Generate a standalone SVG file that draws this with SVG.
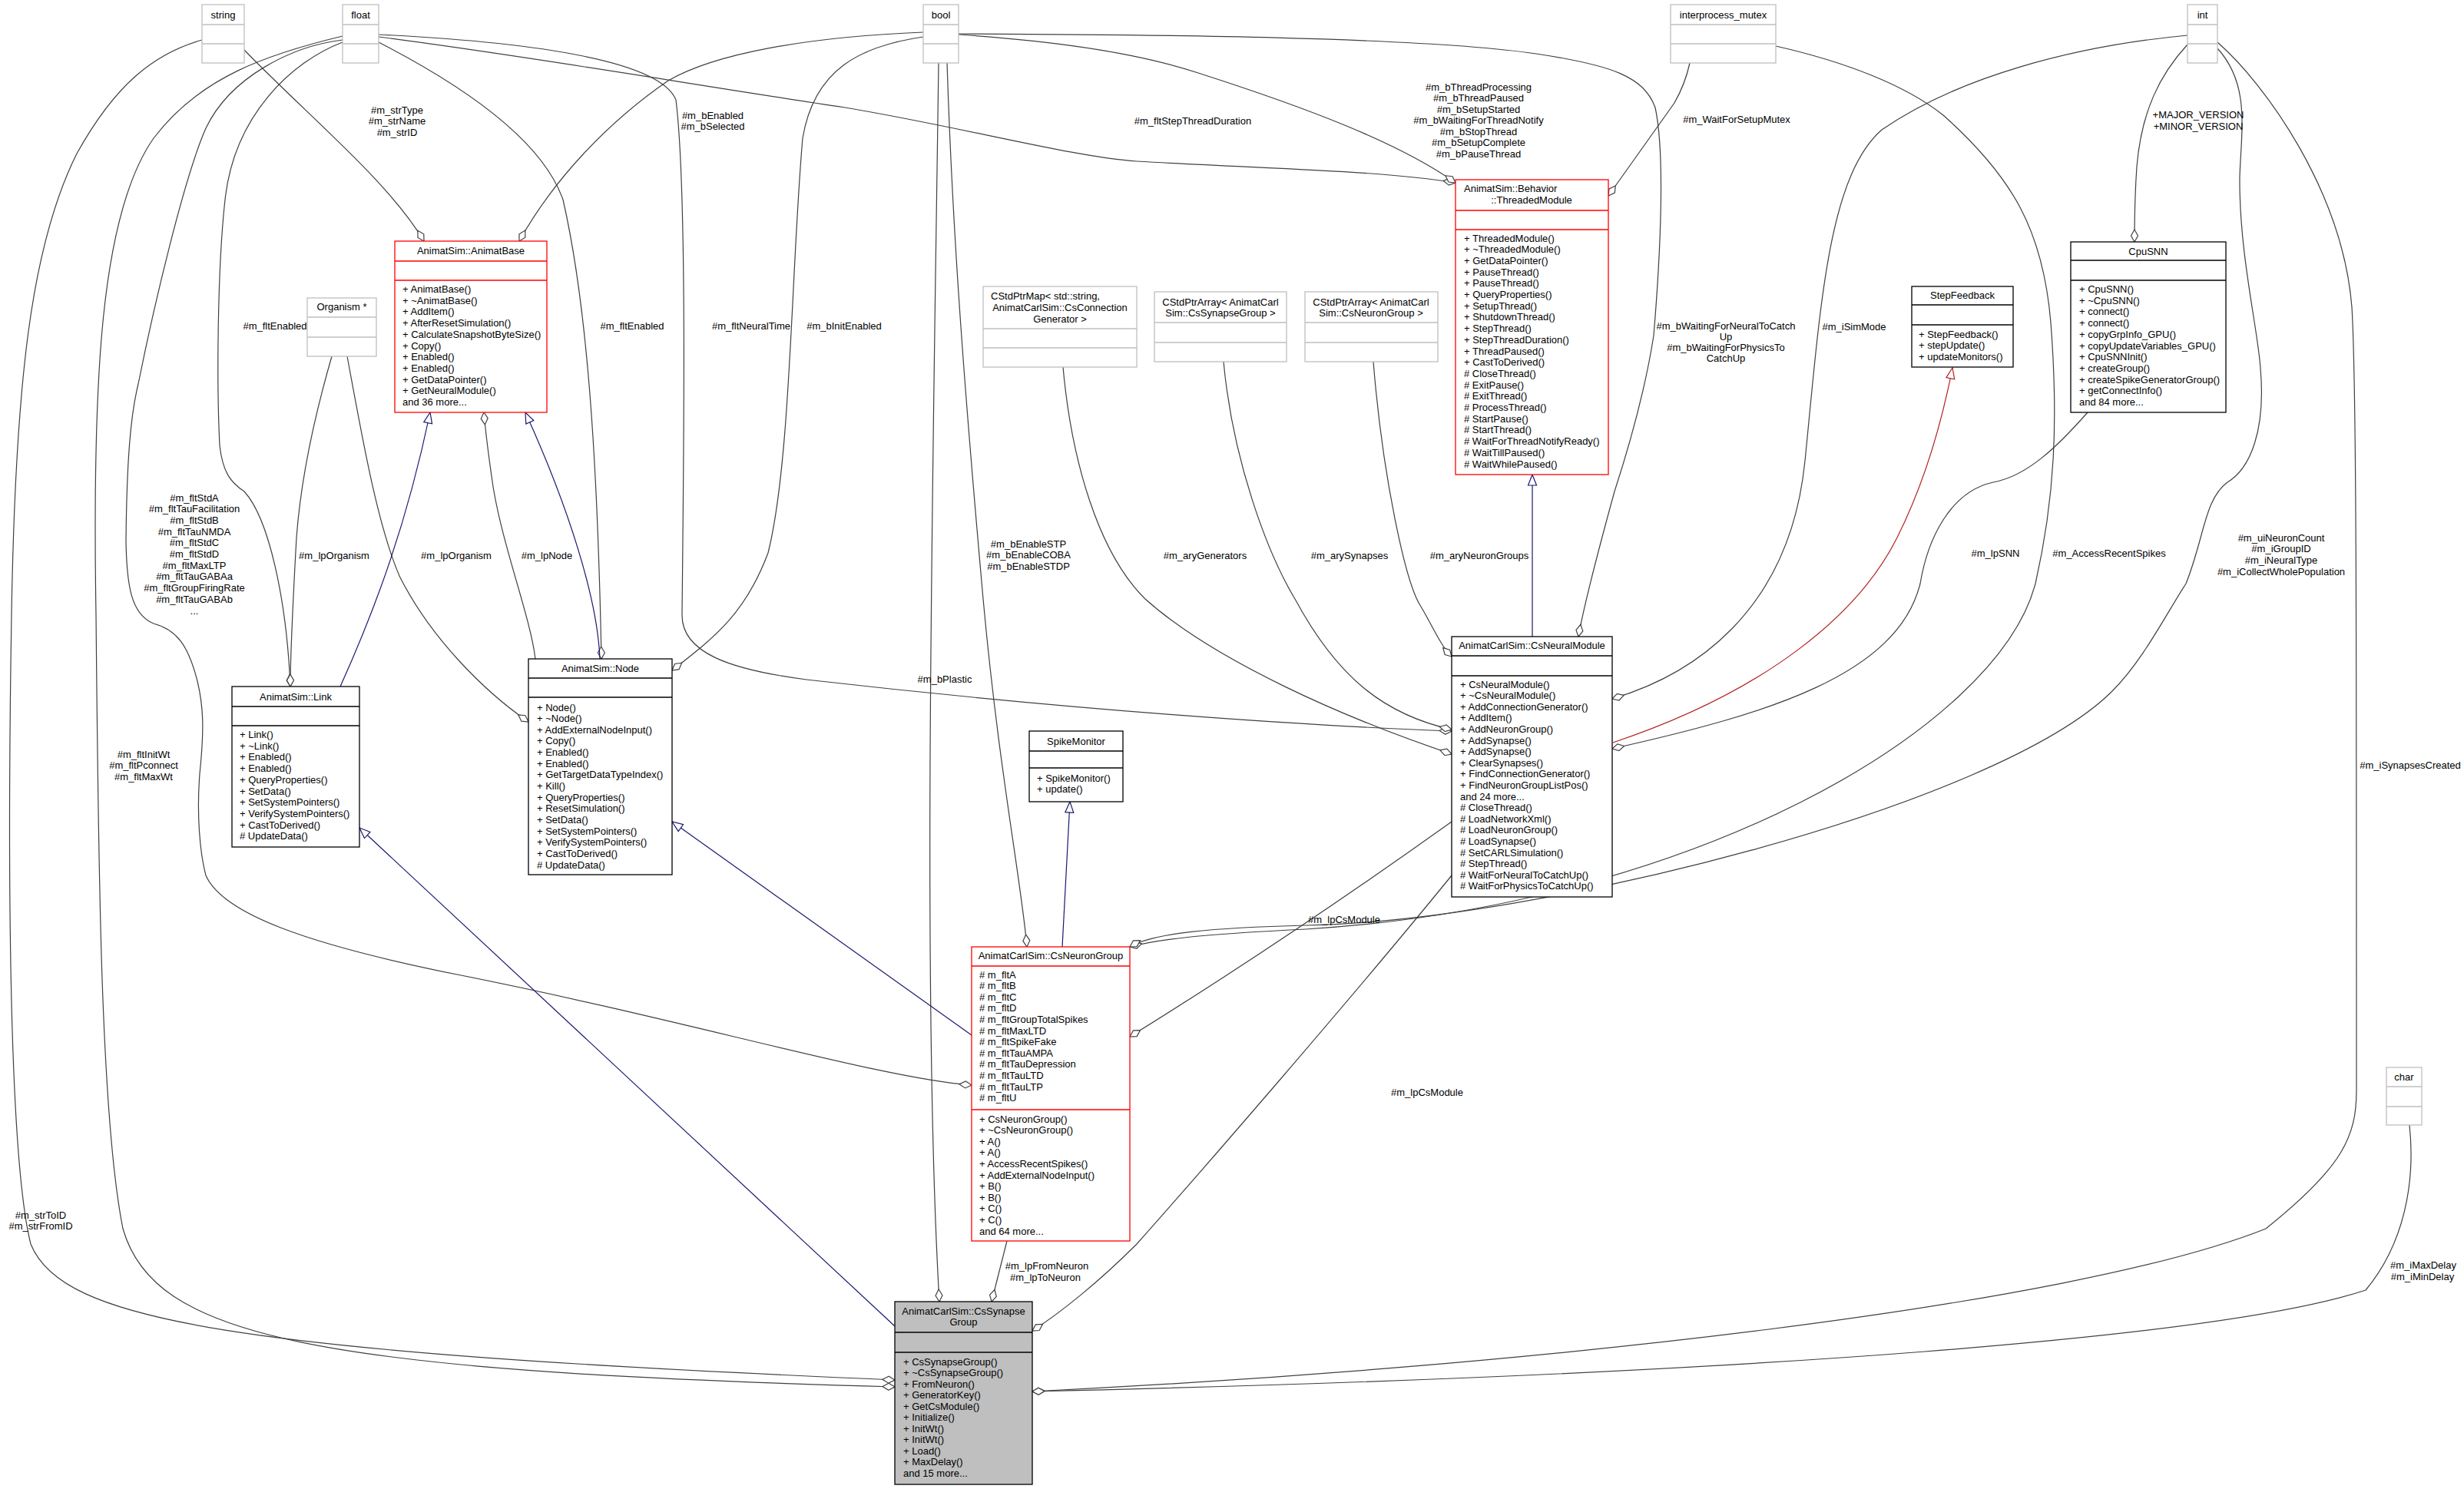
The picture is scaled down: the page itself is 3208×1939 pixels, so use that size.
<svg xmlns="http://www.w3.org/2000/svg" width="3208" height="1939" viewBox="0 0 3208 1939">
<style>
text{font-family:"Liberation Sans",Arial,sans-serif;font-size:13px;fill:#000}
.c{text-anchor:middle}
.bx{fill:#fff;stroke:#000;stroke-width:1.3}
.gr{fill:#fff;stroke:#bfbfbf;stroke-width:1.3}
.rd{fill:#fff;stroke:#ff0000;stroke-width:1.3}
.sel{fill:#bfbfbf;stroke:#000;stroke-width:1.3}
.lk{stroke:#000;stroke-width:1.3}
.lg{stroke:#bfbfbf;stroke-width:1.3}
.lr{stroke:#ff0000;stroke-width:1.3}
.e{fill:none;stroke:#404040;stroke-width:1.2;marker-end:url(#dia)}
.b{fill:none;stroke:#191970;stroke-width:1.2;marker-end:url(#tri)}
.pr{fill:none;stroke:#b22222;stroke-width:1.2;marker-end:url(#trir)}
</style>
<defs>
<marker id="dia" markerWidth="18" markerHeight="12" refX="17" refY="6" orient="auto" markerUnits="userSpaceOnUse"><path d="M1,6 L9,1.5 L17,6 L9,10.5 Z" fill="#fff" stroke="#404040" stroke-width="1.2"/></marker>
<marker id="tri" markerWidth="16" markerHeight="14" refX="15" refY="7" orient="auto" markerUnits="userSpaceOnUse"><path d="M1,1.5 L15,7 L1,12.5 Z" fill="#fff" stroke="#191970" stroke-width="1.2"/></marker>
<marker id="trir" markerWidth="16" markerHeight="14" refX="15" refY="7" orient="auto" markerUnits="userSpaceOnUse"><path d="M1,1.5 L15,7 L1,12.5 Z" fill="#fff" stroke="#b22222" stroke-width="1.2"/></marker>
</defs>
<rect width="3208" height="1939" fill="#fff"/>

<g id="connectors">
<path class="e" d="M318,65 C400,150 505,235 552,314"/>
<path class="e" d="M1202,42 C1050,48 930,70 870,105 C790,160 720,235 676,314"/>
<path class="e" d="M446,55 C380,80 305,150 293,260 C283,350 282,500 286,580 C290,615 300,628 318,640 C350,675 373,780 378,894"/>
<path class="e" d="M432,464 C410,540 392,620 386,700 C381,790 378,850 378,894"/>
<path class="e" d="M452,464 C470,560 490,680 520,750 C560,830 630,900 688,940"/>
<path class="e" d="M697,858 C690,800 650,700 640,620 C635,585 632,560 630,537"/>
<path class="e" d="M493,55 C600,110 705,180 733,260 C765,400 778,600 783,858"/>
<path class="e" d="M493,45 C700,55 860,80 880,130 C895,250 890,600 888,800 C887,850 950,872 1050,885 C1400,925 1700,945 1890,952"/>
<path class="e" d="M1202,48 C1120,60 1060,90 1045,180 C1030,350 1030,600 1000,720 C970,800 930,830 875,873"/>
<path class="e" d="M493,48 C700,75 900,110 1100,140 C1250,165 1400,205 1480,210 C1650,220 1800,222 1895,238"/>
<path class="e" d="M1248,45 C1400,55 1500,75 1560,95 C1700,140 1820,185 1895,238"/>
<path class="e" d="M1248,44 C1500,45 1850,48 2000,70 C2100,85 2140,100 2155,140 C2168,200 2162,330 2153,437 C2140,520 2115,600 2102,640 C2080,720 2062,790 2055,829"/>
<path class="e" d="M1233,82 C1240,300 1255,500 1280,780 C1300,1000 1330,1150 1337,1233"/>
<path class="e" d="M1222,82 C1215,600 1200,1300 1223,1695"/>
<path class="e" d="M2200,82 C2195,105 2188,120 2180,134 L2094,255"/>
<path class="e" d="M2312,60 C2400,80 2480,110 2530,150 C2620,230 2660,300 2670,420 C2680,550 2675,650 2650,760 C2600,950 2200,1180 1700,1210 C1600,1215 1520,1220 1471,1233"/>
<path class="e" d="M2848,46 C2700,60 2550,100 2450,169 C2380,230 2370,400 2350,600 C2330,800 2200,880 2099,910"/>
<path class="e" d="M2848,58 C2812,97 2788,145 2782,217 C2779,260 2779,290 2779,315"/>
<path class="e" d="M2887,63 C2930,110 2918,170 2916,230 C2915,330 2940,430 2943,480 C2950,560 2930,610 2900,628 C2870,650 2870,700 2846,760 C2820,800 2790,860 2750,900 C2600,1050 2000,1200 1700,1205 C1580,1208 1500,1215 1471,1233"/>
<path class="e" d="M2887,55 C2950,110 3050,250 3062,400 C3068,500 3068,800 3068,1420 C3068,1480 3050,1520 2950,1600 C2700,1700 2000,1780 1344,1812"/>
<path class="e" d="M3137,1465 C3145,1540 3130,1620 3080,1680 C2900,1740 2300,1790 1344,1812"/>
<path class="e" d="M2718,537 C2680,580 2640,620 2595,628 C2540,640 2510,700 2500,760 C2470,880 2300,930 2099,975"/>
<path class="e" d="M1384,478 C1395,600 1430,720 1491,780 C1580,860 1750,935 1890,982"/>
<path class="e" d="M1593,471 C1605,600 1650,720 1686,780 C1740,880 1800,930 1890,950"/>
<path class="e" d="M1788,471 C1800,620 1830,760 1850,790 C1865,815 1875,840 1890,855"/>
<path class="e" d="M1890,1070 C1750,1170 1600,1270 1471,1350"/>
<path class="e" d="M1890,1140 C1760,1300 1560,1530 1480,1620 C1430,1670 1380,1710 1344,1733"/>
<path class="e" d="M1311,1616 L1291,1695"/>
<path class="e" d="M446,52 C380,60 300,100 268,167 C240,230 200,400 180,500 C170,540 165,600 164,705 C165,760 170,800 200,812 C230,820 245,840 257,887 C265,920 266,950 260,1008 C256,1060 260,1110 268,1140 C290,1190 400,1230 600,1270 C900,1330 1150,1405 1265,1413"/>
<path class="e" d="M446,47 C350,70 260,100 200,180 C130,280 120,500 125,800 C128,1100 130,1450 160,1600 C200,1740 400,1785 1165,1806"/>
<path class="e" d="M263,52 C200,70 150,110 100,200 C40,320 20,500 15,800 C10,1100 10,1500 40,1620 C80,1720 300,1760 1165,1797"/>
<path class="b" d="M443,894 C490,790 530,680 560,537"/>
<path class="b" d="M781,858 C778,780 740,660 684,537"/>
<path class="b" d="M1265,1348 L875,1070"/>
<path class="b" d="M1165,1727 L468,1078"/>
<path class="b" d="M1383,1233 L1393,1044"/>
<path class="b" d="M1995,829 L1995,618"/>
<path class="pr" d="M2100,967 C2300,900 2420,800 2470,700 C2510,620 2530,540 2542,479"/>
</g>

<g id="edge-labels">
<text class="c" x="517" y="147.5">#m_strType</text>
<text class="c" x="517" y="161.5">#m_strName</text>
<text class="c" x="517" y="176.5">#m_strID</text>
<text class="c" x="928" y="154.5">#m_bEnabled</text>
<text class="c" x="928" y="168.5">#m_bSelected</text>
<text class="c" x="1553" y="161.5">#m_fltStepThreadDuration</text>
<text class="c" x="1925" y="117.5">#m_bThreadProcessing</text>
<text class="c" x="1925" y="132">#m_bThreadPaused</text>
<text class="c" x="1925" y="146.5">#m_bSetupStarted</text>
<text class="c" x="1925" y="161">#m_bWaitingForThreadNotify</text>
<text class="c" x="1925" y="175.5">#m_bStopThread</text>
<text class="c" x="1925" y="190">#m_bSetupComplete</text>
<text class="c" x="1925" y="204.5">#m_bPauseThread</text>
<text class="c" x="2261" y="159.5">#m_WaitForSetupMutex</text>
<text class="c" x="2862" y="153.5">+MAJOR_VERSION</text>
<text class="c" x="2862" y="168.5">+MINOR_VERSION</text>
<text class="c" x="358" y="428.5">#m_fltEnabled</text>
<text class="c" x="823" y="428.5">#m_fltEnabled</text>
<text class="c" x="978" y="428.5">#m_fltNeuralTime</text>
<text class="c" x="1099" y="428.5">#m_bInitEnabled</text>
<text class="c" x="2247" y="428.5">#m_bWaitingForNeuralToCatch</text>
<text class="c" x="2247" y="442.5">Up</text>
<text class="c" x="2247" y="456.5">#m_bWaitingForPhysicsTo</text>
<text class="c" x="2247" y="470.5">CatchUp</text>
<text class="c" x="2414" y="429.5">#m_iSimMode</text>
<text class="c" x="435" y="727.5">#m_lpOrganism</text>
<text class="c" x="594" y="727.5">#m_lpOrganism</text>
<text class="c" x="712" y="727.5">#m_lpNode</text>
<text class="c" x="253" y="652.5">#m_fltStdA</text>
<text class="c" x="253" y="667.2">#m_fltTauFacilitation</text>
<text class="c" x="253" y="681.9">#m_fltStdB</text>
<text class="c" x="253" y="696.6">#m_fltTauNMDA</text>
<text class="c" x="253" y="711.3">#m_fltStdC</text>
<text class="c" x="253" y="726">#m_fltStdD</text>
<text class="c" x="253" y="740.7">#m_fltMaxLTP</text>
<text class="c" x="253" y="755.4">#m_fltTauGABAa</text>
<text class="c" x="253" y="770.1">#m_fltGroupFiringRate</text>
<text class="c" x="253" y="784.8">#m_fltTauGABAb</text>
<text class="c" x="253" y="799.5">...</text>
<text class="c" x="1339" y="712.5">#m_bEnableSTP</text>
<text class="c" x="1339" y="727">#m_bEnableCOBA</text>
<text class="c" x="1339" y="741.5">#m_bEnableSTDP</text>
<text class="c" x="1569" y="727.5">#m_aryGenerators</text>
<text class="c" x="1757" y="727.5">#m_arySynapses</text>
<text class="c" x="1926" y="727.5">#m_aryNeuronGroups</text>
<text class="c" x="2598" y="724.5">#m_lpSNN</text>
<text class="c" x="2746" y="724.5">#m_AccessRecentSpikes</text>
<text class="c" x="2970" y="704.5">#m_uiNeuronCount</text>
<text class="c" x="2970" y="718.5">#m_iGroupID</text>
<text class="c" x="2970" y="733.5">#m_iNeuralType</text>
<text class="c" x="2970" y="748.5">#m_iCollectWholePopulation</text>
<text class="c" x="3138" y="1001">#m_iSynapsesCreated</text>
<text class="c" x="1750" y="1201.5">#m_lpCsModule</text>
<text class="c" x="1858" y="1426.5">#m_lpCsModule</text>
<text class="c" x="1230" y="888.5">#m_bPlastic</text>
<text class="c" x="187" y="986.5">#m_fltInitWt</text>
<text class="c" x="187" y="1001">#m_fltPconnect</text>
<text class="c" x="187" y="1015.5">#m_fltMaxWt</text>
<text class="c" x="53" y="1586.5">#m_strToID</text>
<text class="c" x="53" y="1600.5">#m_strFromID</text>
<text class="c" x="1363" y="1652.5">#m_lpFromNeuron</text>
<text class="c" x="1361" y="1667.5">#m_lpToNeuron</text>
<text class="c" x="3155" y="1651.5">#m_iMaxDelay</text>
<text class="c" x="3154" y="1666.5">#m_iMinDelay</text>
</g>

<g id="string"><rect class="gr" x="263" y="6" width="55" height="76"/><line class="lg" x1="263" y1="32" x2="318" y2="32"/><line class="lg" x1="263" y1="57" x2="318" y2="57"/><text class="c" x="290.5" y="23.5">string</text></g>
<g id="float"><rect class="gr" x="446" y="6" width="47" height="76"/><line class="lg" x1="446" y1="32" x2="493" y2="32"/><line class="lg" x1="446" y1="57" x2="493" y2="57"/><text class="c" x="469.5" y="23.5">float</text></g>
<g id="bool"><rect class="gr" x="1202" y="6" width="46" height="76"/><line class="lg" x1="1202" y1="32" x2="1248" y2="32"/><line class="lg" x1="1202" y1="57" x2="1248" y2="57"/><text class="c" x="1225" y="23.5">bool</text></g>
<g id="interprocess_mutex"><rect class="gr" x="2175" y="6" width="137" height="76"/><line class="lg" x1="2175" y1="32" x2="2312" y2="32"/><line class="lg" x1="2175" y1="57" x2="2312" y2="57"/><text class="c" x="2243.5" y="23.5">interprocess_mutex</text></g>
<g id="int"><rect class="gr" x="2848" y="6" width="39" height="76"/><line class="lg" x1="2848" y1="32" x2="2887" y2="32"/><line class="lg" x1="2848" y1="57" x2="2887" y2="57"/><text class="c" x="2867.5" y="23.5">int</text></g>
<g id="char"><rect class="gr" x="3107" y="1390" width="46" height="75"/><line class="lg" x1="3107" y1="1415" x2="3153" y2="1415"/><line class="lg" x1="3107" y1="1441" x2="3153" y2="1441"/><text class="c" x="3130" y="1407">char</text></g>
<g id="organism"><rect class="gr" x="400" y="388" width="90" height="76"/><line class="lg" x1="400" y1="413" x2="490" y2="413"/><line class="lg" x1="400" y1="439" x2="490" y2="439"/><text class="c" x="445" y="404">Organism *</text></g>

<g id="animatbase"><rect class="rd" x="514" y="314" width="198" height="223"/><line class="lr" x1="514" y1="340" x2="712" y2="340"/><line class="lr" x1="514" y1="365" x2="712" y2="365"/>
<text class="c" x="613" y="331">AnimatSim::AnimatBase</text>
<text x="524" y="381"><tspan x="524">+ AnimatBase()</tspan><tspan x="524" dy="14.7">+ ~AnimatBase()</tspan><tspan x="524" dy="14.7">+ AddItem()</tspan><tspan x="524" dy="14.7">+ AfterResetSimulation()</tspan><tspan x="524" dy="14.7">+ CalculateSnapshotByteSize()</tspan><tspan x="524" dy="14.7">+ Copy()</tspan><tspan x="524" dy="14.7">+ Enabled()</tspan><tspan x="524" dy="14.7">+ Enabled()</tspan><tspan x="524" dy="14.7">+ GetDataPointer()</tspan><tspan x="524" dy="14.7">+ GetNeuralModule()</tspan><tspan x="524" dy="14.7">and 36 more...</tspan></text></g>

<g id="link"><rect class="bx" x="302" y="894" width="166" height="209"/><line class="lk" x1="302" y1="920" x2="468" y2="920"/><line class="lk" x1="302" y1="945" x2="468" y2="945"/>
<text class="c" x="385" y="911.5">AnimatSim::Link</text>
<text x="312" y="961"><tspan x="312">+ Link()</tspan><tspan x="312" dy="14.7">+ ~Link()</tspan><tspan x="312" dy="14.7">+ Enabled()</tspan><tspan x="312" dy="14.7">+ Enabled()</tspan><tspan x="312" dy="14.7">+ QueryProperties()</tspan><tspan x="312" dy="14.7">+ SetData()</tspan><tspan x="312" dy="14.7">+ SetSystemPointers()</tspan><tspan x="312" dy="14.7">+ VerifySystemPointers()</tspan><tspan x="312" dy="14.7">+ CastToDerived()</tspan><tspan x="312" dy="14.7"># UpdateData()</tspan></text></g>

<g id="node"><rect class="bx" x="688" y="858" width="187" height="281"/><line class="lk" x1="688" y1="883" x2="875" y2="883"/><line class="lk" x1="688" y1="908" x2="875" y2="908"/>
<text class="c" x="781.5" y="874.5">AnimatSim::Node</text>
<text x="699" y="925.5"><tspan x="699">+ Node()</tspan><tspan x="699" dy="14.65">+ ~Node()</tspan><tspan x="699" dy="14.65">+ AddExternalNodeInput()</tspan><tspan x="699" dy="14.65">+ Copy()</tspan><tspan x="699" dy="14.65">+ Enabled()</tspan><tspan x="699" dy="14.65">+ Enabled()</tspan><tspan x="699" dy="14.65">+ GetTargetDataTypeIndex()</tspan><tspan x="699" dy="14.65">+ Kill()</tspan><tspan x="699" dy="14.65">+ QueryProperties()</tspan><tspan x="699" dy="14.65">+ ResetSimulation()</tspan><tspan x="699" dy="14.65">+ SetData()</tspan><tspan x="699" dy="14.65">+ SetSystemPointers()</tspan><tspan x="699" dy="14.65">+ VerifySystemPointers()</tspan><tspan x="699" dy="14.65">+ CastToDerived()</tspan><tspan x="699" dy="14.65"># UpdateData()</tspan></text></g>

<g id="cstdptrmap"><rect class="gr" x="1280" y="373" width="200" height="105"/><line class="lg" x1="1280" y1="428" x2="1480" y2="428"/><line class="lg" x1="1280" y1="453" x2="1480" y2="453"/>
<text x="1290" y="389.5">CStdPtrMap&lt; std::string,</text><text class="c" x="1380" y="404.5">AnimatCarlSim::CsConnection</text><text class="c" x="1380" y="419.5">Generator &gt;</text></g>

<g id="cstdptrarray-syn"><rect class="gr" x="1503" y="380" width="172" height="91"/><line class="lg" x1="1503" y1="420" x2="1675" y2="420"/><line class="lg" x1="1503" y1="446" x2="1675" y2="446"/>
<text class="c" x="1589" y="397.5">CStdPtrArray&lt; AnimatCarl</text><text class="c" x="1589" y="411.5">Sim::CsSynapseGroup &gt;</text></g>

<g id="cstdptrarray-neu"><rect class="gr" x="1699" y="380" width="173" height="91"/><line class="lg" x1="1699" y1="420" x2="1872" y2="420"/><line class="lg" x1="1699" y1="446" x2="1872" y2="446"/>
<text class="c" x="1785" y="397.5">CStdPtrArray&lt; AnimatCarl</text><text class="c" x="1785" y="411.5">Sim::CsNeuronGroup &gt;</text></g>

<g id="threadedmodule"><rect class="rd" x="1895" y="234" width="199" height="384"/><line class="lr" x1="1895" y1="274" x2="2094" y2="274"/><line class="lr" x1="1895" y1="299" x2="2094" y2="299"/>
<text x="1906" y="249.5">AnimatSim::Behavior</text><text class="c" x="1994" y="264.5">::ThreadedModule</text>
<text x="1906" y="314.5"><tspan x="1906">+ ThreadedModule()</tspan><tspan x="1906" dy="14.7">+ ~ThreadedModule()</tspan><tspan x="1906" dy="14.7">+ GetDataPointer()</tspan><tspan x="1906" dy="14.7">+ PauseThread()</tspan><tspan x="1906" dy="14.7">+ PauseThread()</tspan><tspan x="1906" dy="14.7">+ QueryProperties()</tspan><tspan x="1906" dy="14.7">+ SetupThread()</tspan><tspan x="1906" dy="14.7">+ ShutdownThread()</tspan><tspan x="1906" dy="14.7">+ StepThread()</tspan><tspan x="1906" dy="14.7">+ StepThreadDuration()</tspan><tspan x="1906" dy="14.7">+ ThreadPaused()</tspan><tspan x="1906" dy="14.7">+ CastToDerived()</tspan><tspan x="1906" dy="14.7"># CloseThread()</tspan><tspan x="1906" dy="14.7"># ExitPause()</tspan><tspan x="1906" dy="14.7"># ExitThread()</tspan><tspan x="1906" dy="14.7"># ProcessThread()</tspan><tspan x="1906" dy="14.7"># StartPause()</tspan><tspan x="1906" dy="14.7"># StartThread()</tspan><tspan x="1906" dy="14.7"># WaitForThreadNotifyReady()</tspan><tspan x="1906" dy="14.7"># WaitTillPaused()</tspan><tspan x="1906" dy="14.7"># WaitWhilePaused()</tspan></text></g>

<g id="stepfeedback"><rect class="bx" x="2489" y="373" width="132" height="105"/><line class="lk" x1="2489" y1="397" x2="2621" y2="397"/><line class="lk" x1="2489" y1="423" x2="2621" y2="423"/>
<text class="c" x="2555" y="388.5">StepFeedback</text>
<text x="2498" y="439.5"><tspan x="2498">+ StepFeedback()</tspan><tspan x="2498" dy="14.7">+ stepUpdate()</tspan><tspan x="2498" dy="14.7">+ updateMonitors()</tspan></text></g>

<g id="cpusnn"><rect class="bx" x="2696" y="315" width="202" height="222"/><line class="lk" x1="2696" y1="339" x2="2898" y2="339"/><line class="lk" x1="2696" y1="365" x2="2898" y2="365"/>
<text class="c" x="2797" y="331.5">CpuSNN</text>
<text x="2707" y="381"><tspan x="2707">+ CpuSNN()</tspan><tspan x="2707" dy="14.7">+ ~CpuSNN()</tspan><tspan x="2707" dy="14.7">+ connect()</tspan><tspan x="2707" dy="14.7">+ connect()</tspan><tspan x="2707" dy="14.7">+ copyGrpInfo_GPU()</tspan><tspan x="2707" dy="14.7">+ copyUpdateVariables_GPU()</tspan><tspan x="2707" dy="14.7">+ CpuSNNInit()</tspan><tspan x="2707" dy="14.7">+ createGroup()</tspan><tspan x="2707" dy="14.7">+ createSpikeGeneratorGroup()</tspan><tspan x="2707" dy="14.7">+ getConnectInfo()</tspan><tspan x="2707" dy="14.7">and 84 more...</tspan></text></g>

<g id="csneuralmodule"><rect class="bx" x="1890" y="829" width="209" height="339"/><line class="lk" x1="1890" y1="854" x2="2099" y2="854"/><line class="lk" x1="1890" y1="880" x2="2099" y2="880"/>
<text class="c" x="1994.5" y="845">AnimatCarlSim::CsNeuralModule</text>
<text x="1901" y="895.5"><tspan x="1901">+ CsNeuralModule()</tspan><tspan x="1901" dy="14.6">+ ~CsNeuralModule()</tspan><tspan x="1901" dy="14.6">+ AddConnectionGenerator()</tspan><tspan x="1901" dy="14.6">+ AddItem()</tspan><tspan x="1901" dy="14.6">+ AddNeuronGroup()</tspan><tspan x="1901" dy="14.6">+ AddSynapse()</tspan><tspan x="1901" dy="14.6">+ AddSynapse()</tspan><tspan x="1901" dy="14.6">+ ClearSynapses()</tspan><tspan x="1901" dy="14.6">+ FindConnectionGenerator()</tspan><tspan x="1901" dy="14.6">+ FindNeuronGroupListPos()</tspan><tspan x="1901" dy="14.6">and 24 more...</tspan><tspan x="1901" dy="14.6"># CloseThread()</tspan><tspan x="1901" dy="14.6"># LoadNetworkXml()</tspan><tspan x="1901" dy="14.6"># LoadNeuronGroup()</tspan><tspan x="1901" dy="14.6"># LoadSynapse()</tspan><tspan x="1901" dy="14.6"># SetCARLSimulation()</tspan><tspan x="1901" dy="14.6"># StepThread()</tspan><tspan x="1901" dy="14.6"># WaitForNeuralToCatchUp()</tspan><tspan x="1901" dy="14.6"># WaitForPhysicsToCatchUp()</tspan></text></g>

<g id="spikemonitor"><rect class="bx" x="1340" y="952" width="122" height="92"/><line class="lk" x1="1340" y1="978" x2="1462" y2="978"/><line class="lk" x1="1340" y1="1000" x2="1462" y2="1000"/>
<text class="c" x="1401" y="969.5">SpikeMonitor</text>
<text x="1350" y="1017.5"><tspan x="1350">+ SpikeMonitor()</tspan><tspan x="1350" dy="14.7">+ update()</tspan></text></g>

<g id="csneurongroup"><rect class="rd" x="1265" y="1233" width="206" height="383"/><line class="lr" x1="1265" y1="1258" x2="1471" y2="1258"/><line class="lr" x1="1265" y1="1445" x2="1471" y2="1445"/>
<text class="c" x="1368" y="1248.5">AnimatCarlSim::CsNeuronGroup</text>
<text x="1275" y="1273.5"><tspan x="1275"># m_fltA</tspan><tspan x="1275" dy="14.6"># m_fltB</tspan><tspan x="1275" dy="14.6"># m_fltC</tspan><tspan x="1275" dy="14.6"># m_fltD</tspan><tspan x="1275" dy="14.6"># m_fltGroupTotalSpikes</tspan><tspan x="1275" dy="14.6"># m_fltMaxLTD</tspan><tspan x="1275" dy="14.6"># m_fltSpikeFake</tspan><tspan x="1275" dy="14.6"># m_fltTauAMPA</tspan><tspan x="1275" dy="14.6"># m_fltTauDepression</tspan><tspan x="1275" dy="14.6"># m_fltTauLTD</tspan><tspan x="1275" dy="14.6"># m_fltTauLTP</tspan><tspan x="1275" dy="14.6"># m_fltU</tspan></text>
<text x="1275" y="1461.5"><tspan x="1275">+ CsNeuronGroup()</tspan><tspan x="1275" dy="14.6">+ ~CsNeuronGroup()</tspan><tspan x="1275" dy="14.6">+ A()</tspan><tspan x="1275" dy="14.6">+ A()</tspan><tspan x="1275" dy="14.6">+ AccessRecentSpikes()</tspan><tspan x="1275" dy="14.6">+ AddExternalNodeInput()</tspan><tspan x="1275" dy="14.6">+ B()</tspan><tspan x="1275" dy="14.6">+ B()</tspan><tspan x="1275" dy="14.6">+ C()</tspan><tspan x="1275" dy="14.6">+ C()</tspan><tspan x="1275" dy="14.6">and 64 more...</tspan></text></g>

<g id="cssynapsegroup"><rect class="sel" x="1165" y="1695" width="179" height="238"/><line class="lk" x1="1165" y1="1735" x2="1344" y2="1735"/><line class="lk" x1="1165" y1="1761" x2="1344" y2="1761"/>
<text class="c" x="1254.5" y="1711.5">AnimatCarlSim::CsSynapse</text><text class="c" x="1254.5" y="1725.5">Group</text>
<text x="1176" y="1777.5"><tspan x="1176">+ CsSynapseGroup()</tspan><tspan x="1176" dy="14.5">+ ~CsSynapseGroup()</tspan><tspan x="1176" dy="14.5">+ FromNeuron()</tspan><tspan x="1176" dy="14.5">+ GeneratorKey()</tspan><tspan x="1176" dy="14.5">+ GetCsModule()</tspan><tspan x="1176" dy="14.5">+ Initialize()</tspan><tspan x="1176" dy="14.5">+ InitWt()</tspan><tspan x="1176" dy="14.5">+ InitWt()</tspan><tspan x="1176" dy="14.5">+ Load()</tspan><tspan x="1176" dy="14.5">+ MaxDelay()</tspan><tspan x="1176" dy="14.5">and 15 more...</tspan></text></g>
</svg>
